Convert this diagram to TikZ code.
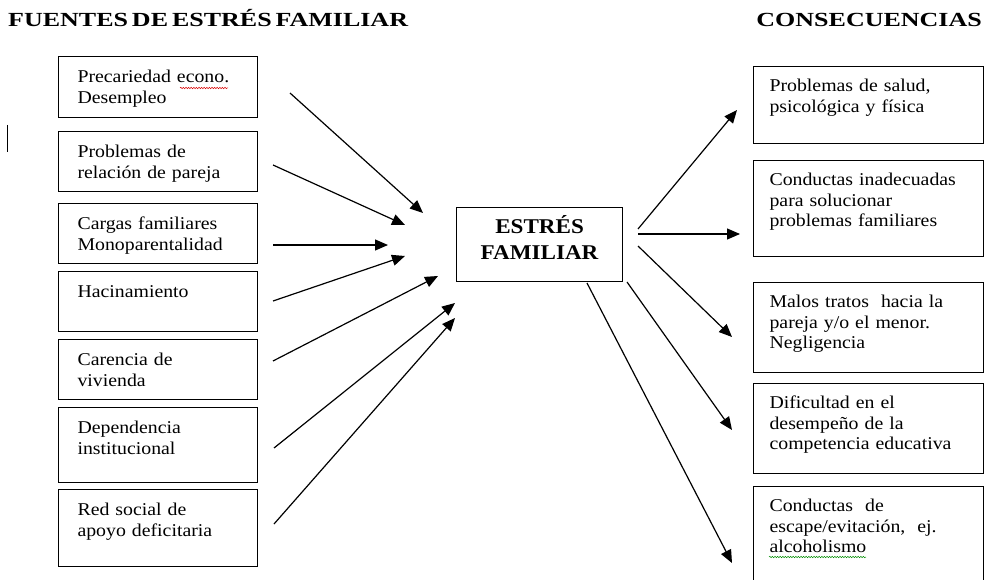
\documentclass[tikz,border=0pt]{standalone}
\usepackage{fontspec}
\setmainfont[FakeStretch=1.1]{Liberation Serif}
\newfontfamily\headfont[FakeStretch=1.3,WordSpace=0.6]{Liberation Serif}
\usetikzlibrary{arrows.meta,decorations.pathmorphing}
\tikzset{
  srcbox/.style  = {draw,line width=1.1pt,anchor=north west,inner xsep=19pt,inner ysep=0pt,
                    text width=161pt,align=left,text height=26pt,text depth=#1,
                    font=\fontsize{18pt}{20.5pt}\selectfont},
  conbox/.style  = {draw,line width=1.1pt,anchor=north west,inner xsep=16pt,inner ysep=0pt,
                    text width=198pt,align=left,text height=25pt,text depth=#1,
                    font=\fontsize{18pt}{20.5pt}\selectfont},
  hubbox/.style  = {draw,line width=1.1pt,anchor=north west,inner sep=0pt,
                    text width=166pt,align=center,text height=26pt,text depth=48pt,
                    font=\bfseries\fontsize{21pt}{26pt}\selectfont},
  headline/.style = {inner sep=0pt,font=\headfont\bfseries\fontsize{20pt}{24pt}\selectfont},
  flowarr/.style = {-{Triangle[length=13pt,width=11pt]},line width=1.2pt},
  spellmark/.style = {line width=0.5pt,decorate,decoration={snake,amplitude=0.7pt,segment length=2.6pt}}
}

\begin{document}
\begin{tikzpicture}[x=1pt,y=-1pt]
  \useasboundingbox (0,0) rectangle (984,580);
  \clip (0,0) rectangle (984,580);
  % titles
  \node[headline,anchor=base west] (fuentes) at (8,27) {FUENTES DE ESTRÉS FAMILIAR};
  \node[headline,anchor=base east] (consec)  at (982,27) {CONSECUENCIAS};
  \draw[line width=1pt] (7,125) -- (7,152);
  % sources
  \node[srcbox=35pt] (precar) at (58,56)  {Precariedad econo.\\Desempleo};
  \node[srcbox=34pt] (pareja) at (58,131) {Problemas de\\relación de pareja};
  \node[srcbox=34pt] (cargas) at (58,203) {Cargas familiares\\Monoparentalidad};
  \node[srcbox=34pt] (hacina) at (58,271) {Hacinamiento};
  \node[srcbox=34pt] (vivien) at (58,339) {Carencia de\\vivienda};
  \node[srcbox=49pt] (depend) at (58,407) {Dependencia\\institucional};
  \node[srcbox=51pt] (redsoc) at (58,489) {Red social de\\apoyo deficitaria};
  % centre
  \node[hubbox] (estres) at (456,207) {ESTRÉS\\FAMILIAR};
  % consequences
  \node[conbox=52pt] (salud)  at (753,66)  {Problemas de salud,\\psicológica y física};
  \node[conbox=71pt] (conduc) at (753,160) {Conductas inadecuadas\\para solucionar\\problemas familiares};
  \node[conbox=65pt] (malos)  at (753,282) {Malos tratos\ \ hacia la\\pareja y/o el menor.\\Negligencia};
  \node[conbox=65pt] (dificu) at (753,383) {Dificultad en el\\desempeño de la\\competencia educativa};
  \node[conbox=89pt] (escape) at (753,486) {Conductas\ \ de\\escape/evitación,\ \ ej.\\alcoholismo};
  \draw[spellmark,red!85!black]    (180,88)  -- (228,88);
  \draw[spellmark,green!55!black]  (769,557) -- (866,557);
  % arrow ends
  \coordinate (precar-t) at (290,93);  \coordinate (precar-h) at (423,213);
  \coordinate (pareja-t) at (273,165); \coordinate (pareja-h) at (405,225);
  \coordinate (cargas-t) at (273,245); \coordinate (cargas-h) at (388,245);
  \coordinate (hacina-t) at (273,301); \coordinate (hacina-h) at (405,256);
  \coordinate (vivien-t) at (273,361); \coordinate (vivien-h) at (438,276);
  \coordinate (depend-t) at (274,448); \coordinate (depend-h) at (455,303);
  \coordinate (redsoc-t) at (274,524); \coordinate (redsoc-h) at (455,318);
  \coordinate (salud-t)  at (638,229); \coordinate (salud-h)  at (737,110);
  \coordinate (conduc-t) at (638,234); \coordinate (conduc-h) at (740,234);
  \coordinate (malos-t)  at (638,246); \coordinate (malos-h)  at (732,337);
  \coordinate (dificu-t) at (627,282); \coordinate (dificu-h) at (732,430);
  \coordinate (escape-t) at (587,283); \coordinate (escape-h) at (732,563);
  \foreach \n in {precar,pareja,cargas,hacina,vivien,depend,redsoc,salud,conduc,malos,dificu,escape}
    \draw[flowarr] (\n-t) -- (\n-h);
\end{tikzpicture}
\end{document}
